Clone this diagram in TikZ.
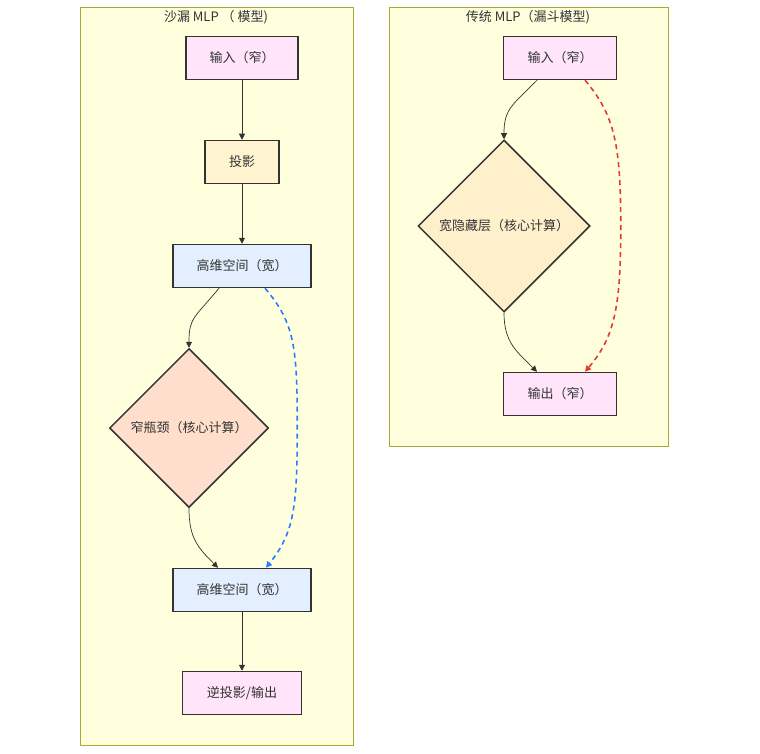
\documentclass[tikz,border=0pt]{standalone}
\usepackage{fontspec}
\setmainfont{Noto Sans CJK SC}
\usetikzlibrary{shapes.geometric,arrows.meta,calc}
\definecolor{clfill}{HTML}{FFFFDE}
\definecolor{clline}{HTML}{AAAA33}
\definecolor{pinkf}{HTML}{FFE4FA}
\definecolor{projf}{HTML}{FFF3D0}
\definecolor{hdf}{HTML}{E3EFFF}
\definecolor{bnf}{HTML}{FFDFCC}
\definecolor{widef}{HTML}{FFF0CC}
\definecolor{ink}{HTML}{333333}
\definecolor{blueedge}{HTML}{2B7BFF}
\definecolor{rededge}{HTML}{E53935}
\tikzset{
  cluster/.style={draw=clline,fill=clfill,line width=0.8pt},
  boxnode/.style={draw=ink,line width=1.5pt,rectangle,inner sep=0pt,text=ink,font=\fontsize{13}{15}\selectfont},
  dnode/.style={draw=ink,line width=1.5pt,diamond,aspect=1,inner sep=0pt,text=ink,font=\fontsize{13}{15}\selectfont},
  edge/.style={draw=ink,line width=0.7pt,-{Triangle[length=6pt,width=6pt]}},
  dashedge/.style={line width=1.6pt,dash pattern=on 5pt off 4pt,-{Triangle[length=6pt,width=6pt]}},
  ctitle/.style={text=ink,font=\fontsize{13}{15}\selectfont}
}
\begin{document}
\begin{tikzpicture}[x=1pt,y=-1pt]
\useasboundingbox (0,0) rectangle (760,754);
\fill[white] (0,0) rectangle (760,754);
% clusters
\draw[cluster] (80,7) rectangle (353,745);
\draw[cluster] (389,7) rectangle (668,446);
\node[ctitle] (t1) at (216,17) {沙漏 MLP （ 模型)};
\node[ctitle] (t2) at (528,17) {传统 MLP（漏斗模型)};
% left nodes
\node[boxnode,fill=pinkf,minimum width=112pt,minimum height=43pt] (lin) at (242,58) {输入（窄）};
\node[boxnode,fill=projf,minimum width=74pt,minimum height=43pt] (proj) at (242,162) {投影};
\node[boxnode,fill=hdf,minimum width=138pt,minimum height=43pt] (hd1) at (242,266) {高维空间（宽）};
\node[dnode,fill=bnf,minimum width=159pt,minimum height=159pt] (bn) at (189,428) {窄瓶颈（核心计算）};
\node[boxnode,fill=hdf,minimum width=138pt,minimum height=43pt] (hd2) at (242,590) {高维空间（宽）};
\node[boxnode,fill=pinkf,minimum width=119pt,minimum height=43pt] (lout) at (242,693) {逆投影/输出};
% right nodes
\node[boxnode,fill=pinkf,minimum width=113pt,minimum height=43pt] (rin) at (560,58) {输入（窄）};
\node[dnode,fill=widef,minimum width=172pt,minimum height=172pt] (wide) at (504,226) {宽隐藏层（核心计算）};
\node[boxnode,fill=pinkf,minimum width=113pt,minimum height=43pt] (rout) at (560,394) {输出（窄）};
% left edges
\draw[edge] (lin) -- (proj);
\draw[edge] (proj) -- (hd1);
\draw[edge] ($(hd1.south)+(-23,0)$) .. controls +(-25,30) and +(0,-30) .. (bn.north);
\draw[edge] (bn.south) .. controls +(0,30) and +(-20,-20) .. ($(hd2.north)+(-24,0)$);
\draw[dashedge,draw=blueedge,blueedge] ($(hd1.south)+(23,0)$) .. controls +(30,35) and +(0,-80) .. ($(bn.east)+(28,0)$)
  .. controls +(0,80) and +(28,-35) .. ($(hd2.north)+(24,0)$);
\draw[edge] (lout.north|-hd2.south) -- (lout);
% right edges
\draw[edge] ($(rin.south)+(-23,0)$) .. controls +(-25,25) and +(0,-30) .. (wide.north);
\draw[edge] (wide.south) .. controls +(0,30) and +(-20,-20) .. ($(rout.north)+(-23,0)$);
\draw[dashedge,draw=rededge,rededge] ($(rin.south)+(25,0)$) .. controls +(30,35) and +(0,-80) .. ($(wide.east)+(30,0)$)
  .. controls +(0,80) and +(30,-35) .. ($(rout.north)+(25,0)$);
\end{tikzpicture}
\end{document}
